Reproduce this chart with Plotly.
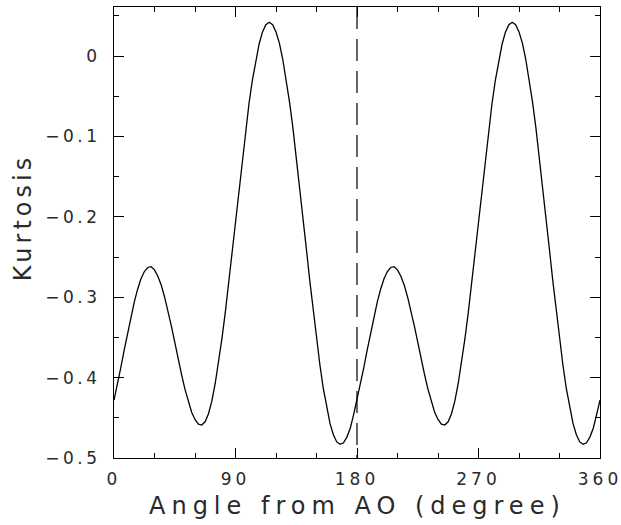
import plotly.graph_objects as go

# Angle (degree) and kurtosis values
angle = [0, 2.5, 5, 7.5, 10, 12.5, 15, 17.5, 20, 22.5, 25, 27.5, 30, 32.5, 35, 37.5, 40, 42.5,
         45, 47.5, 50, 52.5, 55, 57.5, 60, 62.5, 65, 67.5, 70, 72.5, 75, 77.5, 80, 82.5, 85, 87.5,
         90, 92.5, 95, 97.5, 100, 102.5, 105, 107.5, 110, 112.5, 115, 117.5, 120, 122.5, 125, 127.5, 130, 132.5,
         135, 137.5, 140, 142.5, 145, 147.5, 150, 152.5, 155, 157.5, 160, 162.5, 165, 167.5, 170, 172.5, 175, 177.5,
         180, 182.5, 185, 187.5, 190, 192.5, 195, 197.5, 200, 202.5, 205, 207.5, 210, 212.5, 215, 217.5, 220, 222.5,
         225, 227.5, 230, 232.5, 235, 237.5, 240, 242.5, 245, 247.5, 250, 252.5, 255, 257.5, 260, 262.5, 265, 267.5,
         270, 272.5, 275, 277.5, 280, 282.5, 285, 287.5, 290, 292.5, 295, 297.5, 300, 302.5, 305, 307.5, 310, 312.5,
         315, 317.5, 320, 322.5, 325, 327.5, 330, 332.5, 335, 337.5, 340, 342.5, 345, 347.5, 350, 352.5, 355, 357.5,
         360]
kurtosis = [-0.428, -0.409, -0.388, -0.366, -0.345, -0.325, -0.306, -0.290, -0.277, -0.268, -0.263, -0.262, -0.266, -0.274, -0.285, -0.300, -0.317, -0.336,
            -0.356, -0.377, -0.396, -0.414, -0.430, -0.443, -0.452, -0.458, -0.459, -0.455, -0.445, -0.429, -0.407, -0.381, -0.351, -0.318, -0.281, -0.243,
            -0.205, -0.166, -0.128, -0.092, -0.059, -0.030, -0.005, 0.015, 0.030, 0.039, 0.042, 0.039, 0.030, 0.016, -0.004, -0.028, -0.057, -0.089,
            -0.125, -0.162, -0.201, -0.240, -0.279, -0.316, -0.352, -0.384, -0.413, -0.437, -0.457, -0.471, -0.480, -0.483, -0.481, -0.474, -0.463, -0.446,
            -0.428, -0.409, -0.388, -0.366, -0.345, -0.325, -0.306, -0.290, -0.277, -0.268, -0.263, -0.262, -0.266, -0.274, -0.285, -0.300, -0.317, -0.336,
            -0.356, -0.377, -0.396, -0.414, -0.430, -0.443, -0.452, -0.458, -0.459, -0.455, -0.445, -0.429, -0.407, -0.381, -0.351, -0.318, -0.281, -0.243,
            -0.205, -0.166, -0.128, -0.092, -0.059, -0.030, -0.005, 0.015, 0.030, 0.039, 0.042, 0.039, 0.030, 0.016, -0.004, -0.028, -0.057, -0.089,
            -0.125, -0.162, -0.201, -0.240, -0.279, -0.316, -0.352, -0.384, -0.413, -0.437, -0.457, -0.471, -0.480, -0.483, -0.481, -0.474, -0.463, -0.446,
            -0.428]

x_ticks = [0, 90, 180, 270, 360]
y_ticks = [0, -0.1, -0.2, -0.3, -0.4, -0.5]
x_labels = ["0", "90", "180", "270", "360"]
y_labels = ["0", "\u22120.1", "\u22120.2", "\u22120.3", "\u22120.4", "\u22120.5"]
marker_angle = 180
x_title = "Angle from AO (degree)"
y_title = "Kurtosis"

def spaced(s, px):
    return '<span style="letter-spacing:%spx">%s</span>' % (px, s)

FONT = "DejaVu Sans"
TXT = "#2a2a2a"

fig = go.Figure()
fig.add_trace(go.Scatter(x=angle, y=kurtosis, mode="lines",
                         line=dict(color="black", width=1.3),
                         showlegend=False, hoverinfo="skip"))

fig.add_shape(type="line", xref="x", yref="paper", x0=marker_angle, x1=marker_angle, y0=1, y1=0,
              line=dict(color="black", width=1.2, dash="22px,10px"))

axis_common = dict(showgrid=False, zeroline=False, showline=True, linecolor="black", linewidth=1,
                   mirror="ticks", ticks="inside", ticklen=10, tickwidth=1, tickcolor="black",
                   ticklabeloverflow="allow", automargin=False,
                   tickfont=dict(family=FONT, size=17, color=TXT))

fig.update_xaxes(range=[0, 360], tickmode="array", tickvals=x_ticks,
                 ticktext=[spaced(t, 4) for t in x_labels],
                 minor=dict(dtick=30, tick0=0, ticks="inside", ticklen=5, tickwidth=1, tickcolor="black"),
                 ticklabelstandoff=6, **axis_common)
fig.update_yaxes(range=[-0.5, 0.061], tickmode="array", tickvals=y_ticks,
                 ticktext=[spaced(t, 3.5) for t in y_labels],
                 minor=dict(dtick=0.05, tick0=0, ticks="inside", ticklen=5, tickwidth=1, tickcolor="black"),
                 ticklabelstandoff=9, **axis_common)

fig.add_annotation(text=spaced(x_title, 6), xref="paper", yref="paper", x=0.5, y=-0.107,
                   xanchor="center", yanchor="middle", showarrow=False,
                   font=dict(family=FONT, size=24, color=TXT))
fig.add_annotation(text=spaced(y_title, 4), xref="paper", yref="paper", x=-0.187, y=0.532,
                   xanchor="center", yanchor="middle", textangle=-90, showarrow=False,
                   font=dict(family=FONT, size=24, color=TXT))

fig.update_layout(width=621, height=525, margin=dict(l=114, r=21, t=7, b=67),
                  paper_bgcolor="white", plot_bgcolor="white")

fig.write_html("out.html")
